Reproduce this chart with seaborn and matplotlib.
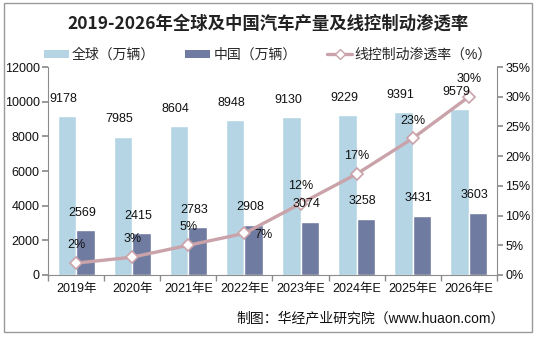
import numpy as np
import pandas as pd
import matplotlib
matplotlib.use("Agg")
import matplotlib.pyplot as plt
from matplotlib.patches import Rectangle, Patch
from matplotlib.lines import Line2D
import seaborn as sns

years = ["2019年", "2020年", "2021年E", "2022年E", "2023年E", "2024年E", "2025年E", "2026年E"]
global_output = [9178, 7985, 8604, 8948, 9130, 9229, 9391, 9579]
china_output = [2569, 2415, 2783, 2908, 3074, 3258, 3431, 3603]
penetration = [2, 3, 5, 7, 12, 17, 23, 30]

series_names = ["全球（万辆）", "中国（万辆）"]
line_name = "线控制动渗透率（%）"

sns.set_theme(style="white")
plt.rcParams["font.family"] = ["Liberation Sans", "Noto Sans CJK SC", "DejaVu Sans"]

c_global = "#B5D4E4"
c_china = "#6F7BA0"
c_line = "#C9A3A9"
c_axis = "#8C8C8C"

df = pd.DataFrame({
    "year": years * 2,
    "value": global_output + china_output,
    "series": [series_names[0]] * len(years) + [series_names[1]] * len(years),
})

fig = plt.figure(figsize=(5.36, 3.37), dpi=100)
ax = fig.add_axes([0.0896, 0.184, 0.8374, 0.617])

sns.barplot(data=df, x="year", y="value", hue="series", order=years,
            hue_order=series_names, palette=[c_global, c_china],
            width=0.66, saturation=1, ax=ax, legend=False)

ax.set_ylim(0, 12000)
ax.set_yticks(np.arange(0, 12001, 2000))
ax.set_xlim(-0.5, len(years) - 0.5)
ax.set_xlabel("")
ax.set_ylabel("")

ax2 = ax.twinx()
ax2.set_position(ax.get_position())
pos = np.arange(len(years))
sns.lineplot(x=pos, y=penetration, ax=ax2, color=c_line, linewidth=2.4,
             marker="D", markersize=6.5, markerfacecolor="white",
             markeredgecolor=c_line, markeredgewidth=1.2)
ax2.set_ylim(0, 35)
ax2.set_yticks(np.arange(0, 36, 5))
ax2.set_yticklabels([f"{t}%" for t in range(0, 36, 5)])
ax2.set_xlim(-0.5, len(years) - 0.5)

# bar value labels, drawn on the top axes so they sit above the line
for container, vals in zip(ax.containers, [global_output, china_output]):
    for bar, v in zip(container, vals):
        ax2.text(bar.get_x() + bar.get_width() / 2 - 0.06, bar.get_height() + 650, f"{v}",
                 ha="center", va="bottom", fontsize=9, color="#111111",
                 transform=ax.transData, zorder=5)

for i, p in enumerate(penetration):
    if p == 7:
        ax2.text(i + 0.34, p - 0.3, f"{p}%", ha="center", va="center", fontsize=9,
                 color="#111111", zorder=5)
    else:
        ax2.text(i, p + 3.0, f"{p}%", ha="center", va="center", fontsize=9,
                 color="#111111", zorder=5)

# axes styling
for a in (ax, ax2):
    for s in a.spines.values():
        s.set_visible(False)
ax.spines["left"].set_visible(True)
ax.spines["bottom"].set_visible(True)
ax2.spines["right"].set_visible(True)
for s in (ax.spines["left"], ax.spines["bottom"], ax2.spines["right"]):
    s.set_color(c_axis)
    s.set_linewidth(0.8)

ax.set_xticks(pos)
ax.set_xticklabels(years)
ax.set_xticks(np.arange(-0.5, len(years), 1.0), minor=True)
ax.tick_params(axis="x", which="major", length=0, labelsize=9, pad=6, colors="#111111")
ax.tick_params(axis="x", which="minor", length=4, color=c_axis, direction="out", bottom=True)
ax.tick_params(axis="y", left=True, length=4, color=c_axis, labelsize=9, labelcolor="#111111", pad=2)
ax2.tick_params(axis="y", right=True, length=4, color=c_axis, labelsize=9, labelcolor="#111111", pad=2)
ax2.set_ylabel("")
ax.grid(False)
ax2.grid(False)

# legend
handles = [
    Patch(facecolor=c_global, edgecolor="none"),
    Patch(facecolor=c_china, edgecolor="none"),
    Line2D([0], [0], color=c_line, linewidth=2.4, marker="D", markersize=5,
           markerfacecolor="white", markeredgecolor=c_line),
]
fig.legend(handles, series_names + [line_name], loc="center", bbox_to_anchor=(0.5, 0.838),
           ncol=3, frameon=False, fontsize=10, handlelength=1.8, handleheight=0.5,
           columnspacing=2.2, handletextpad=0.2)

fig.text(0.5, 0.93, "2019-2026年全球及中国汽车产量及线控制动渗透率", ha="center", va="center",
         fontsize=12.5, fontweight="bold", color="#222222",
         family=["Noto Sans CJK SC", "DejaVu Sans"])

fig.text(0.942, 0.056, "制图：华经产业研究院（www.huaon.com）", ha="right", va="center",
         fontsize=10, color="#111111")

fig.patches.append(Rectangle((0.008, 0.015), 0.984, 0.975, transform=fig.transFigure,
                             fill=False, edgecolor="#999999", linewidth=1.0))

fig.savefig("out.png", dpi=100)
